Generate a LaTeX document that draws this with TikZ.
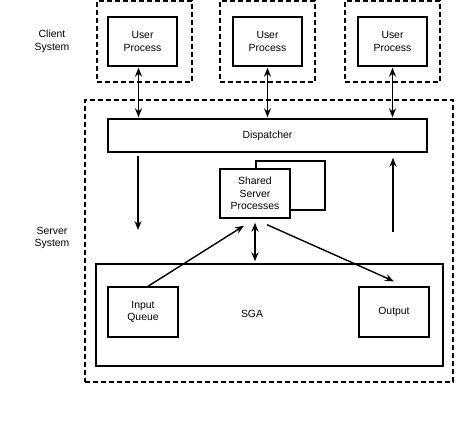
\documentclass[tikz,border=0pt]{standalone}
\usepackage{fontspec}
\setmainfont{Liberation Sans}
\usepackage{tikz}
\usetikzlibrary{arrows.meta, positioning}
\tikzstyle{sysbox}  = [rectangle, draw=black, line width=1.5pt,
                        dash pattern=on 5pt off 3pt, inner sep=0pt]
\tikzstyle{block}   = [rectangle, draw=black, fill=white, line width=1.4pt,
                        inner sep=0pt, align=center,
                        font=\fontsize{10.4}{12.7}\selectfont]
\tikzstyle{label}   = [align=center, font=\fontsize{10.4}{12.7}\selectfont]
\tikzstyle{arrow}   = [line width=1.4pt,-{Stealth[length=9pt,width=7pt]}]
\tikzstyle{biarrow} = [line width=1.4pt,{Stealth[length=9pt,width=7pt]}-{Stealth[length=9pt,width=7pt]}]

\begin{document}
\begin{tikzpicture}[x=1pt, y=-1pt]
\useasboundingbox (0,0) rectangle (460,423);

% client side
\node (client1) [sysbox, minimum width=95pt, minimum height=81pt] at (144.5,41.5) {};
\node (client2) [sysbox, minimum width=95pt, minimum height=81pt] at (267.5,41.5) {};
\node (client3) [sysbox, minimum width=95pt, minimum height=81pt] at (392.5,41.5) {};
\node (user1) [block, minimum width=69pt, minimum height=49pt] at (142.5,41.5) {User\\Process};
\node (user2) [block, minimum width=69pt, minimum height=49pt] at (267.5,41.5) {User\\Process};
\node (user3) [block, minimum width=69pt, minimum height=49pt] at (392.5,41.5) {User\\Process};
\node (clientlbl) [label] at (52,41) {Client\\System};

% server side
\node (server) [sysbox, minimum width=368pt, minimum height=282pt] at (269,241) {};
\node (serverlbl) [label] at (52,238) {Server\\System};
\node (disp) [block, minimum width=319pt, minimum height=33pt] at (267.5,135.5) {Dispatcher};
\node (sharedback) [block, minimum width=69pt, minimum height=49pt] at (290.5,185.5) {};
\node (shared) [block, minimum width=70pt, minimum height=49pt] at (255,193.5)
                                     {Shared\\Server\\Processes};
\node (sga)  [block, minimum width=347pt, minimum height=102pt] at (269.5,315) {};
\node (sgalbl) [label] at (252,314) {SGA};
\node (inq)  [block, minimum width=70pt, minimum height=50pt] at (143,312) {Input\\Queue};
\node (outq) [block, minimum width=70pt, minimum height=50pt] at (394,312) {Output};

\coordinate (downend) at (138,230);
\coordinate (upstart) at (393,232);

\draw [biarrow] ([xshift=-4pt,yshift=-1pt]user1.south) -- ([xshift=-4pt,yshift=1pt]user1.south |- disp.north);
\draw [biarrow] ([yshift=-1pt]user2.south) -- ([yshift=1pt]user2.south |- disp.north);
\draw [biarrow] ([yshift=-1pt]user3.south) -- ([yshift=1pt]user3.south |- disp.north);
\draw [arrow] ([yshift=-3pt]disp.south -| downend) -- (downend);
\draw [arrow] (upstart) -- ([yshift=-5pt]disp.south -| upstart);
\draw [arrow] ([xshift=5pt]inq.north) -- ([xshift=-11pt,yshift=-7pt]shared.south);
\draw [biarrow] ([yshift=-4pt]shared.south) -- ([yshift=2pt]shared.south |- sga.north);
\draw [arrow] ([xshift=12pt,yshift=-6pt]shared.south) -- ([yshift=5pt]outq.north);

\end{tikzpicture}
\end{document}
